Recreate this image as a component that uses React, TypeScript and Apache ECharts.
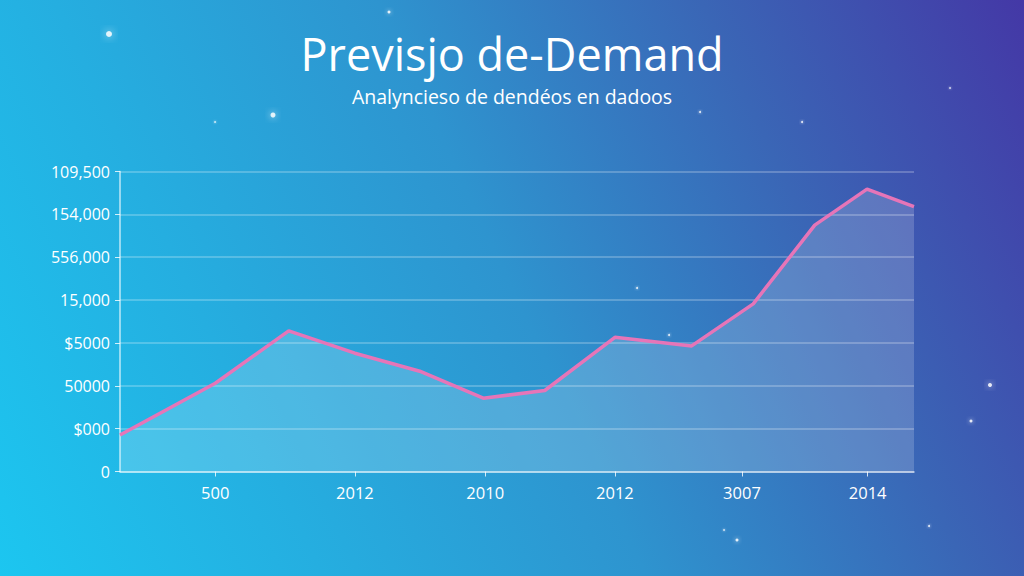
import React, { useEffect, useRef } from "react";
import * as echarts from "echarts";

const titleText = "Previsjo de-Demand";
const subtitleText = "Analyncieso de dendéos en dadoos";

// y-axis tick labels (bottom to top)
const yTickLabels = ["0", "$000", "50000", "$5000", "15,000", "556,000", "154,000", "109,500"];
// x-axis tick labels and where they sit along the period axis
const xTickLabels = ["500", "2012", "2010", "2012", "3007", "2014"];
const xTickPositions = [1.44, 3.55, 5.52, 7.48, 9.4, 11.3];

// series: period position and demand value
const periods = [0, 1.44, 2.55, 3.55, 4.53, 5.49, 6.42, 7.48, 8.64, 9.57, 10.5, 11.29, 12];
const demand = [8.5, 20.6, 32.8, 27.6, 23.4, 17.1, 18.9, 31.3, 29.3, 39.1, 57.5, 65.9, 61.8];

const stars: [number, number, number][] = [
  [109, 34, 3],
  [389, 12, 1.5],
  [273, 115, 2.5],
  [215, 122, 0.8],
  [700, 112, 1],
  [802, 122, 1],
  [637, 288, 1],
  [669, 335, 1],
  [990, 385, 2],
  [971, 421, 1.5],
  [737, 540, 1.5],
  [929, 526, 1],
  [724, 530, 0.8],
  [950, 88, 0.8],
];

export default function App() {
  const ref = useRef<HTMLDivElement>(null);
  useEffect(() => {
    if (!ref.current) return;
    const chart = echarts.init(ref.current, null, { renderer: "svg" });
    const font = "'Open Sans', 'Noto Sans', sans-serif";
    chart.setOption({
      animation: false,
      backgroundColor: "transparent",
      title: [
        {
          text: titleText,
          left: "center",
          top: 26,
          textStyle: { color: "#ffffff", fontSize: 45, fontWeight: 400, fontFamily: font },
        },
        {
          text: subtitleText,
          left: "center",
          top: 81,
          textStyle: { color: "#ffffff", fontSize: 19.5, fontWeight: 400, fontFamily: font },
        },
      ],
      grid: { left: 120, right: 110, top: 171.5, bottom: 104.5, containLabel: false },
      xAxis: {
        type: "value",
        min: 0,
        max: 12,
        splitLine: { show: false },
        axisLine: { show: true, lineStyle: { color: "rgba(255,255,255,0.7)", width: 1.5 } },
        axisTick: {
          show: true,
          length: 5,
          customValues: xTickPositions,
          lineStyle: { color: "rgba(255,255,255,0.8)" },
        },
        axisLabel: {
          customValues: xTickPositions,
          color: "#ffffff",
          fontSize: 16.5,
          fontFamily: font,
          margin: 12,
          formatter: (v: number) => {
            let best = 0;
            xTickPositions.forEach((p, i) => {
              if (Math.abs(p - v) < Math.abs(xTickPositions[best] - v)) best = i;
            });
            return xTickLabels[best];
          },
        },
      },
      yAxis: {
        type: "value",
        min: 0,
        max: 70,
        interval: 10,
        axisLine: { show: true, lineStyle: { color: "rgba(255,255,255,0.7)", width: 1.5 } },
        axisTick: { show: true, length: 5, lineStyle: { color: "rgba(255,255,255,0.8)" } },
        splitLine: { show: true, lineStyle: { color: "rgba(255,255,255,0.3)", width: 1.5 } },
        axisLabel: {
          color: "#ffffff",
          fontSize: 16,
          fontFamily: font,
          margin: 10,
          formatter: (v: number) => yTickLabels[Math.round(v / 10)] ?? "",
        },
      },
      series: [
        {
          type: "line",
          data: periods.map((p, i) => [p, demand[i]]),
          symbol: "none",
          lineStyle: { color: "#e675b8", width: 3.5 },
          areaStyle: { color: "rgba(255,255,255,0.25)" },
        },
      ],
      graphic: stars.map(([x, y, r]) => ({
        type: "circle",
        shape: { cx: x, cy: y, r },
        style: { fill: "rgba(255,255,255,0.85)", shadowBlur: r * 3, shadowColor: "#ffffff" },
        silent: true,
      })),
    });
    return () => chart.dispose();
  }, []);
  return (
    <div
      style={{
        position: "fixed",
        left: 0,
        top: 0,
        width: 1024,
        height: 576,
        background:
          "linear-gradient(65deg, #1cc6f0 0%, #25aee0 25%, #2e94cf 50%, #3a66b6 75%, #4438a6 100%)",
      }}
    >
      <div ref={ref} style={{ width: 1024, height: 576 }} />
    </div>
  );
}
